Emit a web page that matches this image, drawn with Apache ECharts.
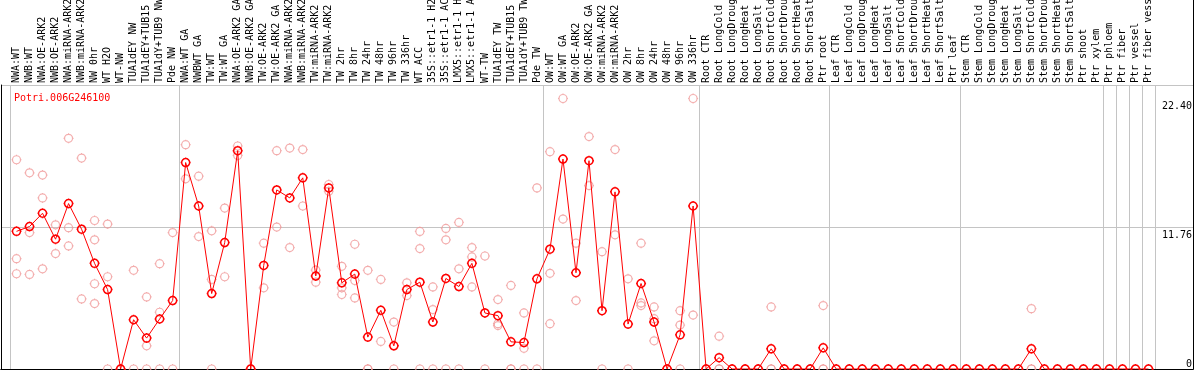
<!DOCTYPE html>
<html>
<head>
<meta charset="utf-8">
<script src="https://cdn.jsdelivr.net/npm/echarts@6/dist/echarts.min.js"></script>
<style>
html,body{margin:0;padding:0;background:#fff;}
#chart{width:1194px;height:370px;}
</style>
</head>
<body>
<div id="chart"></div>
<script>
const geneName = 'Potri.006G246100';

const categories = [
  'NWA:WT','NWB:WT','NWA:OE-ARK2','NWB:OE-ARK2','NWA:miRNA-ARK2','NWB:miRNA-ARK2','NW 0hr','WT H2O','WT-NW','TUA1dEY NW','TUA1dEY+TUB15 NW','TUA1dY+TUB9 NW','Pde NW',
  'NWA:WT GA','NWBWT GA','TW:WT','TW:WT GA','NWA:OE-ARK2 GA','NWB:OE-ARK2 GA','TW:OE-ARK2','TW:OE-ARK2 GA','NWA:miRNA-ARK2 GA','NWB:miRNA-ARK2 GA','TW:miRNA-ARK2','TW:miRNA-ARK2 GA','TW 2hr','TW 8hr','TW 24hr','TW 48hr','TW 96hr','TW 336hr','WT ACC','35S::etr1-1 H2O','35S::etr1-1 ACC','LMX5::etr1-1 H2O','LMX5::etr1-1 ACC','WT-TW','TUA1dEY TW','TUA1dEY+TUB15 TW','TUA1dY+TUB9 TW','Pde TW',
  'OW:WT','OW:WT GA','OW:OE-ARK2','OW:OE-ARK2 GA','OW:miRNA-ARK2','OW:miRNA-ARK2 GA','OW 2hr','OW 8hr','OW 24hr','OW 48hr','OW 96hr','OW 336hr',
  'Root CTR','Root LongCold','Root LongDrought','Root LongHeat','Root LongSalt','Root ShortCold','Root ShortDrought','Root ShortHeat','Root ShortSalt','Ptr root',
  'Leaf CTR','Leaf LongCold','Leaf LongDrought','Leaf LongHeat','Leaf LongSalt','Leaf ShortCold','Leaf ShortDrought','Leaf ShortHeat','Leaf ShortSalt','Ptr leaf',
  'Stem CTR','Stem LongCold','Stem LongDrought','Stem LongHeat','Stem LongSalt','Stem ShortCold','Stem ShortDrought','Stem ShortHeat','Stem ShortSalt','Ptr shoot','Ptr xylem',
  'Ptr phloem','Ptr fiber','Ptr vessel','Ptr fiber vessel'
];

// index of the first category of each sample group (vertical separators)
const groupStarts = [0, 13, 41, 53, 63, 73, 84, 85, 86, 87, 88];

// mean expression per category (red line)
const meanValues = [
  11.40, 11.80, 12.90, 10.75, 13.70, 11.58, 8.75, 6.58, 0, 4.08, 2.56, 4.14, 5.67,
  17.10, 13.50, 6.25, 10.47, 18.08, 0, 8.58, 14.83, 14.17, 15.83, 7.70, 15.00, 7.14, 7.86, 2.64, 4.86, 1.92, 6.58, 7.19, 3.89, 7.50, 6.83, 8.75, 4.64, 4.42, 2.25, 2.19, 7.47,
  9.92, 17.39, 7.97, 17.25, 4.83, 14.67, 3.72, 7.08, 3.89, 0, 2.83, 13.50,
  0, 0.94, 0, 0, 0, 1.67, 0, 0, 0, 1.75,
  0, 0, 0, 0, 0, 0, 0, 0, 0, 0,
  0, 0, 0, 0, 0, 1.67, 0, 0, 0, 0, 0,
  0, 0, 0, 0
];

// individual replicate values per category (pink circles)
const replicateValues = [
  [17.33, 9.14, 7.89], [16.25, 11.30, 7.83], [16.06, 14.17, 8.30], [11.94, 9.56], [19.10, 11.70, 10.19], [17.47, 5.80], [12.30, 10.70, 7.06, 5.42], [12.00, 7.64, 0], [0, 0], [8.17, 0], [5.97, 1.92, 0], [8.72, 4.70, 0], [11.30, 0],
  [18.58, 15.75], [15.97, 10.97], [11.44, 7.42, 0], [13.33, 7.64], [18.47, 17.69], [0, 0], [10.42, 6.72], [18.08, 11.75], [18.30, 10.06], [18.17, 13.50], [8.19, 7.19], [15.28, 14.72], [8.50, 6.72, 6.17], [10.33, 7.33, 5.89], [8.17, 0, 0], [7.42, 2.28], [3.89, 0], [7.14, 6.08], [11.39, 9.97, 0], [6.80, 4.92, 0], [11.64, 10.70, 0], [12.14, 8.30, 0], [10.06, 9.28, 6.80], [9.36, 0], [5.75, 3.75, 3.60], [6.92, 0, 0], [4.64, 1.72, 0], [15.00, 0],
  [18.00, 7.92, 3.75], [22.40, 12.42], [10.42, 5.67], [19.25, 15.19], [9.72, 0], [18.17, 11.11], [7.47, 0], [10.42, 5.47, 5.25], [5.14, 4.17, 2.33], [0, 0], [4.83, 3.64, 0], [22.40, 4.47],
  [0, 0], [2.72, 0, 0], [0, 0], [0, 0], [0, 0], [5.14, 0, 0], [0, 0], [0, 0], [0, 0], [5.25, 0, 0],
  [0], [0], [0], [0], [0], [0], [0], [0], [0], [0],
  [0], [0], [0], [0], [0], [5.00, 0, 0], [0], [0], [0], [0], [0],
  [0], [0], [0], [0]
];

const yTickLabels = [0, 11.76, 22.40];
const yMax = 23.52;
const yInterval = 11.76;

const FONT = 'DejaVu Sans Mono';
const GRID_GREY = '#c4c4c4';
const LINE_RED = '#ff0000';
const REP_PINK = '#f09898';

// circle with four short ticks (like the original glyph)
const markerPath = 'path://M-4,0A4,4,0,0,1,0,-4A4,4,0,0,1,4,0A4,4,0,0,1,0,4A4,4,0,0,1,-4,0Z M0,-5L0,-4 M0,4L0,5 M-5,0L-4,0 M4,0L5,0';

const repPoints = [];
replicateValues.forEach((reps, i) => reps.forEach(v => repPoints.push([i, v])));

const isGroupStart = idx => groupStarts.indexOf(idx) >= 0;

const chart = echarts.init(document.getElementById('chart'), null, {renderer: 'canvas'});
chart.setOption({
  animation: false,
  backgroundColor: '#ffffff',
  textStyle: {fontFamily: FONT},
  title: {
    text: geneName,
    left: 9, top: 88,
    textStyle: {color: LINE_RED, fontFamily: FONT, fontSize: 10, fontWeight: 'normal'}
  },
  grid: [
    {left: 10, right: 39, top: 85, bottom: 1, containLabel: false, outerBoundsMode: 'none'},
    {left: 1, right: 1, top: 85, bottom: 1, containLabel: false, outerBoundsMode: 'none'},
    {left: 1, right: 1, top: 0, bottom: 285, containLabel: false, outerBoundsMode: 'none'}
  ],
  xAxis: [
    {
      type: 'category', gridIndex: 0, position: 'top', data: categories, boundaryGap: true,
      axisLine: {show: true, lineStyle: {color: '#000', width: 1}},
      axisTick: {show: true, interval: isGroupStart, length: 85, lineStyle: {color: GRID_GREY, width: 1}},
      splitLine: {show: true, interval: isGroupStart, lineStyle: {color: GRID_GREY, width: 1}},
      axisLabel: {show: true, interval: 0, rotate: 90, margin: 2, color: '#000', fontFamily: FONT, fontSize: 10, hideOverlap: false}
    },
    {
      type: 'category', gridIndex: 1, position: 'top', data: [''],
      axisLine: {show: true, lineStyle: {color: '#000', width: 1}},
      axisTick: {show: false}, axisLabel: {show: false}, splitLine: {show: false}
    },
    {
      type: 'category', gridIndex: 1, position: 'bottom', data: [''],
      axisLine: {show: true, lineStyle: {color: '#000', width: 1}},
      axisTick: {show: false}, axisLabel: {show: false}, splitLine: {show: false}
    },
    {
      type: 'category', gridIndex: 2, data: [''], show: false
    }
  ],
  yAxis: [
    {
      type: 'value', gridIndex: 0, min: 0, max: yMax, interval: yInterval, show: false,
      splitLine: {show: false}
    },
    {
      type: 'value', gridIndex: 1, min: 0, max: yMax, interval: yInterval, position: 'right',
      axisLine: {show: true, lineStyle: {color: '#000', width: 1}},
      axisTick: {show: false},
      splitLine: {show: true, lineStyle: {color: GRID_GREY, width: 1}},
      axisLabel: {
        show: true, inside: true, margin: 1, color: '#000', fontFamily: FONT, fontSize: 10,
        customValues: yTickLabels, padding: [3, 0, 0, 0],
        verticalAlign: 'top', verticalAlignMinLabel: 'bottom',
        formatter: v => (v === 0 ? '0' : v.toFixed(2))
      }
    },
    {
      type: 'value', gridIndex: 1, min: 0, max: yMax, position: 'left',
      axisLine: {show: true, lineStyle: {color: '#000', width: 1}},
      axisTick: {show: false}, axisLabel: {show: false}, splitLine: {show: false}
    },
    {
      type: 'value', gridIndex: 2, position: 'right',
      axisLine: {show: true, lineStyle: {color: '#000', width: 1}},
      axisTick: {show: false}, axisLabel: {show: false}, splitLine: {show: false}
    }
  ],
  series: [
    {
      type: 'line', xAxisIndex: 0, yAxisIndex: 0, data: meanValues,
      symbol: markerPath, symbolSize: 10, showSymbol: true,
      lineStyle: {color: LINE_RED, width: 1},
      itemStyle: {color: 'rgba(0,0,0,0)', borderColor: LINE_RED, borderWidth: 1.5},
      z: 3, silent: true
    },
    {
      type: 'scatter', xAxisIndex: 0, yAxisIndex: 0, data: repPoints,
      symbol: markerPath, symbolSize: 10,
      itemStyle: {color: 'rgba(0,0,0,0)', borderColor: REP_PINK, borderWidth: 1.2},
      z: 2, silent: true
    }
  ]
});
</script>
</body>
</html>
